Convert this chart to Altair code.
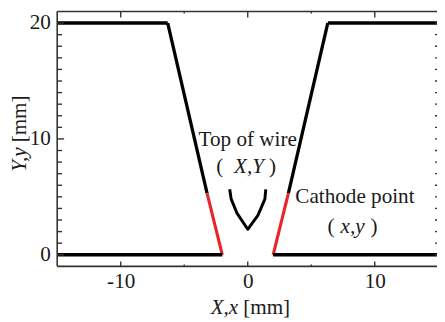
import altair as alt
import pandas as pd

# ---------------- data ----------------
# electrode outline segments (data coordinates, mm)
seg_names = ["left_top", "left_slope", "left_red", "left_bottom",
             "right_top", "right_slope", "right_red", "right_bottom", "wire"]
seg_kind = ["flat", "slope", "red", "flat", "flat", "slope", "red", "flat", "wire"]
seg_x = [
    [-15, -6.3],
    [-6.3, -3.2],
    [-3.2, -2.0],
    [-15, -2.0],
    [6.3, 15],
    [6.3, 3.2],
    [3.2, 2.0],
    [2.0, 15],
    [-1.42, -1.3, -0.85, 0.0, 0.8, 1.35, 1.42],
]
seg_y = [
    [20, 20],
    [20, 5.3],
    [5.3, 0],
    [0, 0],
    [20, 20],
    [20, 5.3],
    [5.3, 0],
    [0, 0],
    [5.65, 4.8, 3.6, 2.2, 3.4, 4.8, 5.65],
]

# annotations
up_text = ["Top of wire", "(", ")", "(", ")"]
up_x = [0.0, -2.2, 1.95, 6.55, 9.95]
up_y = [9.9, 7.6, 7.6, 2.4, 2.4]
left_text = ["Cathode point"]
left_x = [3.75]
left_y = [4.95]
it_text = ["X,Y", "x,y"]
it_x = [0.1, 8.25]
it_y = [7.6, 2.4]

x_major = [-10, 0, 10]
x_minor = [-5, 5]
y_major = [0, 10, 20]
y_minor = [v for v in range(0, 21) if v not in (0, 10, 20)]

# ---------------- build ----------------
rows = []
for name, kind, xs, ys in zip(seg_names, seg_kind, seg_x, seg_y):
    for i, (a, b) in enumerate(zip(xs, ys)):
        rows.append({"seg": name, "kind": kind, "i": i, "x": a, "y": b})
lines_df = pd.DataFrame(rows)

W, H = 386, 259
FONT = "Liberation Serif, Times New Roman, DejaVu Serif, serif"
FS = 21.5
TXT = "#1a1a1a"
FRAME = "#333333"

xscale = alt.Scale(domain=[-15, 14.9], nice=False, zero=False)
yscale = alt.Scale(domain=[-1, 21], nice=False, zero=False)
xaxis = alt.Axis(values=x_major, ticks=False, domain=False, grid=False, title=None,
                 labelFont=FONT, labelFontSize=FS, labelColor=TXT, labelPadding=4,
                 labelExpr="datum.value < 0 ? '-' + abs(datum.value) : '' + datum.value")
yaxis = alt.Axis(values=y_major, ticks=False, domain=False, grid=False, title=None,
                 labelFont=FONT, labelFontSize=FS, labelColor=TXT, labelPadding=7)

X = alt.X("x:Q", scale=xscale, axis=xaxis)
Y = alt.Y("y:Q", scale=yscale, axis=yaxis)

lines = alt.Chart(lines_df).mark_line(clip=True, strokeCap="butt", strokeJoin="round").encode(
    x=X, y=Y, detail="seg:N", order="i:Q",
    color=alt.Color("kind:N", scale=alt.Scale(domain=["flat", "slope", "red", "wire"],
                                              range=["#000000", "#000000", "#e8252b", "#000000"]),
                    legend=None),
    strokeWidth=alt.StrokeWidth("kind:N", scale=alt.Scale(domain=["flat", "slope", "red", "wire"],
                                                          range=[3.5, 3.0, 4.5, 3.4]),
                                legend=None),
)

one = pd.DataFrame({"a": [0]})

def rule(**enc):
    return alt.Chart(one).mark_rule(color=FRAME, strokeWidth=1.6).encode(**enc)

frame = (
    rule(x=alt.value(0), y=alt.value(0), y2=alt.value(H))
    + rule(x=alt.value(0), x2=alt.value(W), y=alt.value(0))
    + rule(x=alt.value(0), x2=alt.value(W), y=alt.value(H))
)

def tick_layer(vals, axis_name, **enc):
    df = pd.DataFrame({axis_name: vals})
    ch = alt.Chart(df).mark_rule(color=FRAME, strokeWidth=1.4)
    if axis_name == "x":
        return ch.encode(x=X, **enc)
    return ch.encode(y=Y, **enc)

ticks = (
    tick_layer(y_major, "y", x=alt.value(0), x2=alt.value(7))
    + tick_layer(y_minor, "y", x=alt.value(0), x2=alt.value(5))
    + tick_layer(list(range(0, 21)), "y", x=alt.value(W - 2), x2=alt.value(W))
    + tick_layer(x_major, "x", y=alt.value(0), y2=alt.value(6))
    + tick_layer(x_minor, "x", y=alt.value(0), y2=alt.value(2))
    + tick_layer(x_major, "x", y=alt.value(H), y2=alt.value(H - 5))
    + tick_layer(x_minor, "x", y=alt.value(H), y2=alt.value(H - 2))
)

up = alt.Chart(pd.DataFrame({"t": up_text, "x": up_x, "y": up_y})).mark_text(
    font=FONT, fontSize=FS, color=TXT, align="center", baseline="middle"
).encode(x=X, y=Y, text="t:N")
left = alt.Chart(pd.DataFrame({"t": left_text, "x": left_x, "y": left_y})).mark_text(
    font=FONT, fontSize=FS, color=TXT, align="left", baseline="middle"
).encode(x=X, y=Y, text="t:N")
ital = alt.Chart(pd.DataFrame({"t": it_text, "x": it_x, "y": it_y})).mark_text(
    font=FONT, fontSize=FS, color=TXT, align="center", baseline="middle", fontStyle="italic"
).encode(x=X, y=Y, text="t:N")

# axis titles (mixed italic / upright)
xt1 = alt.Chart(one).mark_text(font=FONT, fontSize=FS, color=TXT, fontStyle="italic",
                               align="right", baseline="middle").encode(
    x=alt.value(184), y=alt.value(301), text=alt.value("X,x"))
xt2 = alt.Chart(one).mark_text(font=FONT, fontSize=FS, color=TXT,
                               align="left", baseline="middle").encode(
    x=alt.value(189), y=alt.value(301), text=alt.value("[mm]"))
yt1 = alt.Chart(one).mark_text(font=FONT, fontSize=FS, color=TXT, fontStyle="italic", angle=270,
                               align="right", baseline="middle").encode(
    x=alt.value(-38), y=alt.value(138), text=alt.value("Y,y"))
yt2 = alt.Chart(one).mark_text(font=FONT, fontSize=FS, color=TXT, angle=270,
                               align="left", baseline="middle").encode(
    x=alt.value(-38), y=alt.value(133), text=alt.value("[mm]"))

chart = alt.layer(
    lines, frame, ticks, up, left, ital, xt1, xt2, yt1, yt2
).properties(
    width=W, height=H,
    padding={"left": 50, "top": 1, "right": 0, "bottom": 54},
    autosize=alt.AutoSizeParams(type="none"),
).configure_view(stroke="transparent")

chart.save("out.html", embed_options={"renderer": "svg", "actions": False})
